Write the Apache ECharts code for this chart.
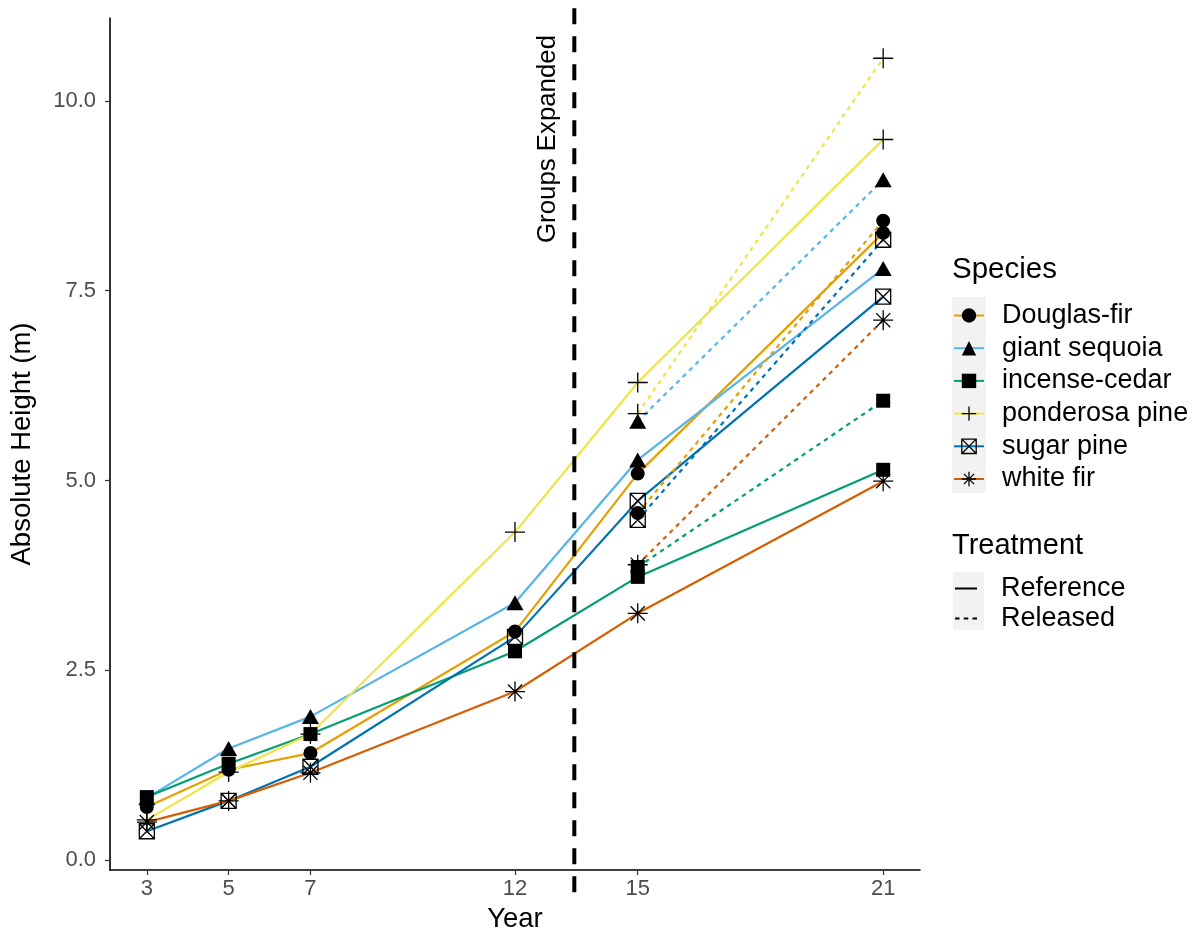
<!DOCTYPE html>
<html>
<head>
<meta charset="utf-8">
<script src="https://cdn.jsdelivr.net/npm/echarts@6/dist/echarts.min.js"></script>
<style>
  html, body { margin: 0; padding: 0; background: #ffffff; }
  #chart { width: 1201px; height: 938px; }
</style>
</head>
<body>
<div id="chart"></div>
<script>
// Survey years and tick positions
const years = [3, 5, 7, 12, 15, 21];
const releasedYears = [15, 21];
const xTicks = [3, 5, 7, 12, 15, 21];
const yTicks = [0, 2.5, 5, 7.5, 10];
const expansionYear = 13.45;

const species = ['Douglas-fir', 'giant sequoia', 'incense-cedar', 'ponderosa pine', 'sugar pine', 'white fir'];
const speciesColors = ['#E69F00', '#56B4E9', '#009E73', '#F0E442', '#0072B2', '#D55E00'];
const treatments = ['Reference', 'Released'];

// Mean absolute height (m), reference treatment, one value per survey year
const referenceDouglasFir    = [0.70, 1.19, 1.41, 3.01, 5.09, 8.26];
const referenceGiantSequoia  = [0.82, 1.47, 1.89, 3.39, 5.27, 7.79];
const referenceIncenseCedar  = [0.83, 1.27, 1.66, 2.75, 3.73, 5.14];
const referencePonderosaPine = [0.53, 1.16, 1.66, 4.32, 6.29, 9.49];
const referenceSugarPine     = [0.38, 0.78, 1.23, 2.94, 4.73, 7.42];
const referenceWhiteFir      = [0.50, 0.78, 1.15, 2.22, 3.25, 4.99];

// Mean absolute height (m), released treatment (after group expansion)
const releasedDouglasFir    = [4.57, 8.42];
const releasedGiantSequoia  = [5.78, 8.96];
const releasedIncenseCedar  = [3.86, 6.05];
const releasedPonderosaPine = [5.88, 10.56];
const releasedSugarPine     = [4.48, 8.17];
const releasedWhiteFir      = [3.89, 7.11];

const referenceValues = [referenceDouglasFir, referenceGiantSequoia, referenceIncenseCedar,
                         referencePonderosaPine, referenceSugarPine, referenceWhiteFir];
const releasedValues = [releasedDouglasFir, releasedGiantSequoia, releasedIncenseCedar,
                        releasedPonderosaPine, releasedSugarPine, releasedWhiteFir];

const FONT = '"Liberation Sans", Arial, Helvetica, sans-serif';
const HOLLOW = 'rgba(0,0,0,0)';

// Point shapes per species
const markers = [
  { symbol: 'circle', size: 14, filled: true },
  { symbol: 'triangle', size: [17, 15], filled: true },
  { symbol: 'rect', size: 14, filled: true },
  { symbol: 'path://M5,0L5,10M0,5L10,5', size: 20, filled: false },
  { symbol: 'path://M0,0L10,0L10,10L0,10ZM0,0L10,10M10,0L0,10', size: 15, filled: false },
  { symbol: 'path://M5,0L5,10M0,5L10,5M1.46,1.46L8.54,8.54M8.54,1.46L1.46,8.54', size: 20, filled: false }
];

// Line-type keys for the treatment legend
const solidKey = 'path://M0,0L22,0L22,2L0,2Z';
const dashedKey = 'path://M0,0L4.5,0L4.5,2L0,2ZM8.75,0L13.25,0L13.25,2L8.75,2ZM17.5,0L22,0L22,2L17.5,2Z';

function markerItemStyle(m) {
  return m.filled
    ? { color: '#000', borderWidth: 0 }
    : { color: HOLLOW, borderColor: '#000', borderWidth: 1.3 };
}

const series = [];
species.forEach((name, i) => {
  const m = markers[i];
  series.push({
    name: name,
    type: 'line',
    data: years.map((y, k) => [y, referenceValues[i][k]]),
    symbol: m.symbol,
    symbolSize: m.size,
    showSymbol: true,
    itemStyle: markerItemStyle(m),
    lineStyle: { color: speciesColors[i], width: 2.2 },
    emphasis: { disabled: true },
    z: 2
  });
});
species.forEach((name, i) => {
  const m = markers[i];
  series.push({
    name: name,
    type: 'line',
    data: releasedYears.map((y, k) => [y, releasedValues[i][k]]),
    symbol: m.symbol,
    symbolSize: m.size,
    showSymbol: true,
    itemStyle: markerItemStyle(m),
    lineStyle: { color: speciesColors[i], width: 2.2, type: [4.5, 4.5] },
    emphasis: { disabled: true },
    z: 2
  });
});

// Treatment entries (legend only)
series.push({
  name: treatments[0], type: 'line', data: [], symbol: 'none',
  lineStyle: { color: '#000', width: 2 }
});
series.push({
  name: treatments[1], type: 'line', data: [], symbol: 'none',
  lineStyle: { color: '#000', width: 2, type: [4.5, 4.5] }
});

// Vertical marker for the year the groups were expanded
series.push({
  name: 'expansion',
  type: 'line',
  data: [[expansionYear, 11.22], [expansionYear, -0.57]],
  symbol: 'none',
  clip: false,
  silent: true,
  lineStyle: { color: '#000', width: 4, type: [16, 12] },
  emphasis: { disabled: true },
  z: 3
});

const legendText = {
  fontSize: 27, color: '#000', fontFamily: FONT, lineHeight: 22
};

const option = {
  animation: false,
  backgroundColor: '#ffffff',
  textStyle: { fontFamily: FONT },
  grid: { left: 110, right: 281, top: 18, bottom: 68, containLabel: false, outerBoundsMode: 'none' },
  xAxis: {
    type: 'value',
    min: 2.1,
    max: 21.9,
    name: 'Year',
    nameLocation: 'middle',
    nameGap: 35,
    nameTextStyle: { fontSize: 27.5, color: '#000', fontFamily: FONT },
    axisLine: { show: true, onZero: false, lineStyle: { color: '#000', width: 1.6 } },
    axisTick: { show: true, customValues: xTicks, length: 5, lineStyle: { color: '#333', width: 1.2 } },
    axisLabel: { customValues: xTicks, fontSize: 22, color: '#4d4d4d', margin: 8, fontFamily: FONT },
    splitLine: { show: false }
  },
  yAxis: {
    type: 'value',
    min: -0.13,
    max: 11.09,
    name: 'Absolute Height (m)',
    nameLocation: 'middle',
    nameRotate: 90,
    nameGap: 74,
    nameTextStyle: { fontSize: 27.5, color: '#000', fontFamily: FONT },
    axisLine: { show: true, onZero: false, lineStyle: { color: '#000', width: 1.6 } },
    axisTick: { show: true, customValues: yTicks, length: 5, lineStyle: { color: '#333', width: 1.2 } },
    axisLabel: {
      customValues: yTicks, fontSize: 22, color: '#4d4d4d', margin: 14, fontFamily: FONT,
      formatter: v => Number(v).toFixed(1)
    },
    splitLine: { show: false }
  },
  legend: [
    {
      orient: 'vertical',
      left: 953,
      top: 302,
      padding: 0,
      itemWidth: 30,
      itemHeight: 18,
      itemGap: 5.7,
      selectedMode: false,
      textStyle: Object.assign({ padding: [0, 0, 0, 13] }, legendText),
      data: species.map((s, i) => ({
        name: s,
        itemStyle: markerItemStyle(markers[i])
      }))
    },
    {
      orient: 'vertical',
      left: 955,
      top: 575,
      padding: 0,
      itemWidth: 22,
      itemHeight: 2,
      itemGap: 3,
      selectedMode: false,
      textStyle: Object.assign({ padding: [0, 0, 0, 19] }, legendText),
      data: [
        { name: treatments[0], icon: solidKey, itemStyle: { color: '#000', borderWidth: 0 } },
        { name: treatments[1], icon: dashedKey, itemStyle: { color: '#000', borderWidth: 0 } }
      ]
    }
  ],
  graphic: [
    { type: 'rect', z: 0, shape: { x: 952, y: 297, width: 34, height: 196 }, style: { fill: '#f2f2f2' } },
    { type: 'rect', z: 0, shape: { x: 953, y: 572, width: 31, height: 58 }, style: { fill: '#f2f2f2' } },
    { type: 'text', x: 952, y: 270, style: { text: 'Species', fontSize: 29.5, fill: '#000', fontFamily: FONT, textVerticalAlign: 'middle' } },
    { type: 'text', x: 952, y: 546, style: { text: 'Treatment', fontSize: 29, fill: '#000', fontFamily: FONT, textVerticalAlign: 'middle' } },
    { type: 'text', x: 548, y: 139, rotation: Math.PI / 2,
      style: { text: 'Groups Expanded', fontSize: 25.8, fill: '#000', fontFamily: FONT, textAlign: 'center', textVerticalAlign: 'middle' } }
  ],
  series: series
};

const chart = echarts.init(document.getElementById('chart'), null, { renderer: 'canvas' });
chart.setOption(option);
</script>
</body>
</html>
